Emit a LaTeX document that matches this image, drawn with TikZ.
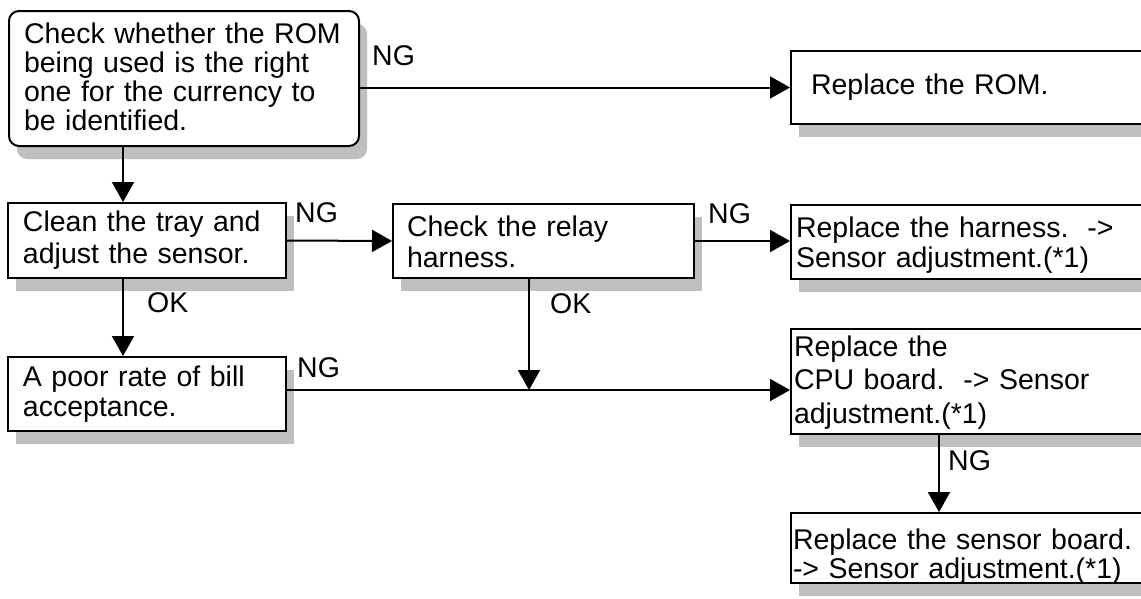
\documentclass[tikz,border=0pt]{standalone}
\usepackage{fontspec}
\setmainfont{Liberation Sans}
\usetikzlibrary{arrows.meta,shadows}

\tikzset{
  stepbox/.style n args={4}{draw, fill=white, line width=2pt, anchor=north west, align=left,
    inner ysep=0pt, inner xsep=#2, text width=#1, text height=#3, text depth=#4,
    drop shadow={shadow xshift=8pt, shadow yshift=-13pt, fill=gray!50, opacity=1}},
  flow/.style={line width=2pt, -{Triangle[length=20pt,width=22pt]}},
  lbl/.style={anchor=base west, inner sep=0pt}
}

\begin{document}
\begin{tikzpicture}[x=1pt, y=-1pt, every node/.style={font=\fontsize{28.5}{30}\selectfont}]
  \useasboundingbox (0,0) rectangle (1141,598);
  \clip (0,0) rectangle (1141,598);
  \fill[white] (0,0) rectangle (1141,598);

  % Boxes
  \node[stepbox={320pt}{15pt}{32pt}{103pt}, rounded corners=10pt, font=\fontsize{28.5}{29.3}\selectfont] (rom) at (8,10)
    {Check whether the ROM\\being used is the right\\one for the currency to\\be identified.};
  \node[stepbox={330pt}{20pt}{43pt}{30pt}] (romnew) at (790,50) {Replace the ROM.};
  \node[stepbox={248pt}{15pt}{28pt}{47pt}, font=\fontsize{28.5}{32}\selectfont] (tray) at (7,202)
    {Clean the tray and\\adjust the sensor.};
  \node[stepbox={273pt}{14pt}{32pt}{42pt}, font=\fontsize{28.5}{31}\selectfont] (relay) at (392,203)
    {Check the relay\\harness.};
  \node[stepbox={360pt}{5pt}{32pt}{42pt}] (harness) at (790,204)
    {Replace the harness.\ \ ->\\Sensor adjustment.(*1)};
  \node[stepbox={248pt}{15pt}{29pt}{45pt}] (poor) at (7,356)
    {A poor rate of bill\\acceptance.};
  \node[stepbox={364pt}{3pt}{27pt}{78pt}, font=\fontsize{28.5}{33.5}\selectfont] (cpu) at (790,328)
    {Replace the\\CPU board.\ \ -> Sensor\\adjustment.(*1)};
  \node[stepbox={366pt}{2pt}{36pt}{34pt}, font=\fontsize{28.5}{29}\selectfont] (sensor) at (790,512)
    {Replace the sensor board.\\-> Sensor adjustment.(*1)};

  % Connectors
  \coordinate (spine) at (123,0);
  \coordinate (merge) at (529,390);
  \coordinate (cpuline) at (939,0);
  \draw[flow] (rom.east |- romnew.west) -- (romnew.west);
  \draw[flow] (rom.south -| spine) -- (tray.north -| spine);
  \draw[flow] (tray.east) -- (relay.west);
  \draw[flow] (tray.south -| spine) -- (poor.north -| spine);
  \draw[flow] (relay.east) -- (harness.west |- relay.east);
  \draw[flow] (relay.south -| merge) -- (merge);
  \draw[flow] (poor.east |- merge) -- (cpu.west |- merge);
  \draw[flow] (cpu.south -| cpuline) -- (sensor.north -| cpuline);

  % Labels
  \node[lbl] (ngrom) at (372,65) {NG};
  \node[lbl] (ngtray) at (295,222) {NG};
  \node[lbl] (oktray) at (147,312) {OK};
  \node[lbl] (ngrelay) at (708,223) {NG};
  \node[lbl] (okrelay) at (550,313) {OK};
  \node[lbl] (ngpoor) at (297,377) {NG};
  \node[lbl] (ngcpu) at (948,470) {NG};
\end{tikzpicture}
\end{document}
